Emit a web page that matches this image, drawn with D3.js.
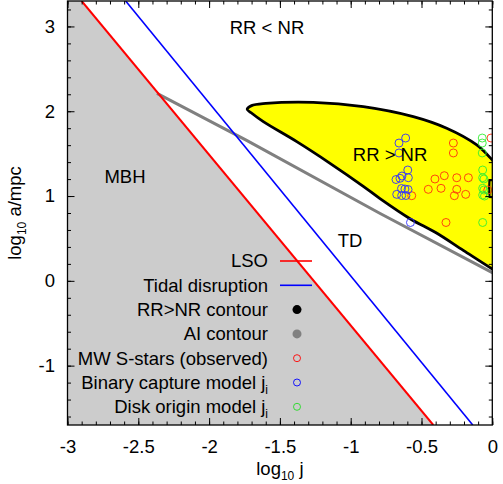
<!DOCTYPE html>
<html>
<head>
<meta charset="utf-8">
<title>RR vs NR</title>
<script src="https://d3js.org/d3.v7.min.js"></script>
<style>
  body { margin: 0; background: #fff; }
  text { font-family: "Liberation Sans", Arial, Helvetica, sans-serif; }
</style>
</head>
<body>
<script>

// ---- data (log10 j, log10 a/mpc) ----
var lsoLine = [[-2.90, 3.3], [-0.417, -1.7]];
var tidalLine = [[-2.589, 3.3], [-0.138, -1.7]];
var aiContour = [[-2.368, 2.21], [-1.735, 1.657], [-0.792, 0.794], [0, 0.097], [0.05, 0.05]];

// RR > NR contour: tip, upper branch towards j = 1, lower branch back
var rrTip = [[-1.731, 2.022]];
var rrUpper = [[-1.700, 2.066], [-1.600, 2.092], [-1.264, 2.105], [-0.911, 2.054],
               [-0.558, 1.936], [-0.322, 1.799], [-0.110, 1.602], [0, 1.425], [0.05, 1.33]];
var rrLower = [[-1.703, 1.982], [-1.617, 1.877], [-1.381, 1.641], [-1.146, 1.386], [-0.911, 1.115],
               [-0.793, 0.97], [-0.578, 0.73], [-0.40, 0.57], [-0.205, 0.36], [0, 0.140], [0.05, 0.09]];
var rrEdge = [[0.01, 1.19], [-0.02, 1.185], [-0.022, 1.09], [-0.02, 0.99], [0.01, 0.985]];

var sStars = [[-0.009, 1.684], [-0.275, 1.625], [-0.275, 1.508], [-0.405, 1.201], [-0.339, 1.240],
              [-0.251, 1.216], [-0.169, 1.216], [-0.452, 1.079], [-0.362, 1.091], [-0.251, 1.079],
              [-0.268, 1.004], [-0.188, 1.020], [-0.569, 1.004], [-0.032, 1.071], [-0.327, 0.688]];
var binaryCapture = [[-0.612, 1.684], [-0.659, 1.625], [-0.659, 1.508], [-0.597, 1.307], [-0.593, 1.216],
                     [-0.652, 1.209], [-0.680, 1.195], [-0.638, 1.236], [-0.641, 1.089], [-0.617, 1.083],
                     [-0.595, 1.077], [-0.675, 1.020], [-0.640, 1.006], [-0.610, 1.006], [-0.578, 0.688]];
var diskOrigin = [[-0.071, 1.684], [-0.071, 1.625], [-0.071, 1.508], [-0.068, 1.307], [-0.068, 1.216],
                  [-0.059, 1.201], [-0.068, 1.091], [-0.059, 1.071], [-0.068, 1.012], [-0.055, 1.000],
                  [-0.068, 0.688]];

var xTicks = [-3, -2.5, -2, -1.5, -1, -0.5, 0];
var yTicks = [-1, 0, 1, 2, 3];

var regionLabels = [
  { text: "RR < NR", x: -1.591, y: 2.982 },
  { text: "MBH", x: -2.594, y: 1.225 },
  { text: "RR > NR", x: -0.722, y: 1.484 },
  { text: "TD", x: -1.005, y: 0.470 }
];

var legendItems = [
  { label: "LSO", type: "line", color: "red" },
  { label: "Tidal disruption", type: "line", color: "blue" },
  { label: "RR>NR contour", type: "dot", color: "black" },
  { label: "AI contour", type: "dot", color: "#808080" },
  { label: "MW S-stars (observed)", type: "ring", color: "red" },
  { label: "Binary capture model j", sub: "i", type: "ring", color: "blue" },
  { label: "Disk origin model j", sub: "i", type: "ring", color: "#22dd22" }
];

// ---- layout ----
var width = 503, height = 484;
var margin = { left: 67.5, right: 10.7, top: 1, bottom: 59 };
var iw = width - margin.left - margin.right,
    ih = height - margin.top - margin.bottom;
var fs = "18.5px";

var x = d3.scaleLinear().domain([-3, 0]).range([0, iw]);
var y = d3.scaleLinear().domain([-1.7, 3.3]).range([ih, 0]);

var svg = d3.select("body").append("svg")
    .attr("width", width)
    .attr("height", height);

svg.append("defs").append("clipPath").attr("id", "plotclip")
  .append("rect").attr("width", iw).attr("height", ih);

var g = svg.append("g").attr("transform", "translate(" + margin.left + "," + margin.top + ")");
var plot = g.append("g").attr("clip-path", "url(#plotclip)");

var line = d3.line().x(function(d) { return x(d[0]); }).y(function(d) { return y(d[1]); });

// MBH region (left of LSO)
plot.append("path")
    .attr("d", line([[-3, 3.3], lsoLine[0], lsoLine[1], [-3, -1.7]]) + "Z")
    .style("fill", "#cccccc");

// RR > NR filled contour
var rrShape = rrTip.concat(rrUpper).concat(rrLower.slice().reverse());
plot.append("path")
    .attr("d", line.curve(d3.curveCatmullRomClosed)(rrShape))
    .style("fill", "#ffff00")
    .style("stroke", "black")
    .style("stroke-width", 2.8)
    .style("stroke-linejoin", "round");
line.curve(d3.curveLinear);

plot.append("path")
    .attr("d", line(rrEdge))
    .style("fill", "none")
    .style("stroke", "black")
    .style("stroke-width", 2.2);

// AI contour
plot.append("path")
    .attr("d", line(aiContour))
    .style("fill", "none")
    .style("stroke", "#808080")
    .style("stroke-width", 3);

// LSO and tidal disruption
plot.append("path").attr("d", line(lsoLine))
    .style("fill", "none").style("stroke", "red").style("stroke-width", 2);
plot.append("path").attr("d", line(tidalLine))
    .style("fill", "none").style("stroke", "blue").style("stroke-width", 1.6);

// points
function rings(data, color) {
  plot.append("g").selectAll("circle")
    .data(data)
    .enter().append("circle")
    .attr("cx", function(d) { return x(d[0]); })
    .attr("cy", function(d) { return y(d[1]); })
    .attr("r", 4)
    .style("fill", "none")
    .style("stroke", color)
    .style("stroke-width", 0.9);
}
rings(sStars, "#ff3010");
rings(binaryCapture, "#3030ff");
rings(diskOrigin, "#33ee33");

// region labels
g.selectAll(".region")
  .data(regionLabels)
  .enter().append("text")
  .attr("class", "region")
  .attr("x", function(d) { return x(d.x); })
  .attr("y", function(d) { return y(d.y); })
  .attr("dy", "0.35em")
  .attr("text-anchor", "middle")
  .style("font-size", fs)
  .text(function(d) { return d.text; });

// legend
var legend = g.append("g");
var lx = 268 - margin.left, ly0 = 261 - margin.top, lstep = 24.3;
legendItems.forEach(function(item, i) {
  var yy = ly0 + i * lstep;
  var t = legend.append("text")
    .attr("x", lx).attr("y", yy).attr("dy", "0.35em")
    .attr("text-anchor", "end")
    .style("font-size", fs)
    .text(item.label);
  if (item.sub) {
    t.append("tspan").attr("dy", "5").style("font-size", "12px").text(item.sub);
  }
  var sx = 297 - margin.left;
  if (item.type == "line") {
    legend.append("line").attr("x1", sx - 17).attr("x2", sx + 15)
      .attr("y1", yy).attr("y2", yy)
      .style("stroke", item.color).style("stroke-width", 1.6);
  } else if (item.type == "dot") {
    legend.append("circle").attr("cx", sx).attr("cy", yy).attr("r", 4.5)
      .style("fill", item.color);
  } else {
    legend.append("circle").attr("cx", sx).attr("cy", yy).attr("r", 3.5)
      .style("fill", "none").style("stroke", item.color).style("stroke-width", 0.9);
  }
});

// axes with inward ticks on all four sides
var xMinor = d3.range(-3, 0.001, 0.1), yMinor = d3.range(-1.6, 3.31, 0.2);
var fmt = function(d) { return String(d); };

function styleAxis(sel) {
  sel.selectAll("path").remove();
  sel.selectAll("line").style("stroke", "black");
  sel.selectAll("text").style("font-size", fs).style("fill", "black")
    .style("font-family", '"Liberation Sans", Arial, sans-serif');
}

g.append("g").attr("transform", "translate(0," + ih + ")")
  .call(d3.axisBottom(x).tickValues(xMinor).tickSize(-3.5).tickFormat(""))
  .call(styleAxis);
g.append("g").attr("transform", "translate(0," + ih + ")")
  .call(d3.axisBottom(x).tickValues(xTicks).tickSize(-7).tickPadding(14.5).tickFormat(fmt))
  .call(styleAxis);
g.append("g")
  .call(d3.axisTop(x).tickValues(xMinor).tickSize(-3.5).tickFormat(""))
  .call(styleAxis);
g.append("g")
  .call(d3.axisTop(x).tickValues(xTicks).tickSize(-7).tickFormat(""))
  .call(styleAxis);

g.append("g")
  .call(d3.axisLeft(y).tickValues(yMinor).tickSize(-3.5).tickFormat(""))
  .call(styleAxis);
g.append("g")
  .call(d3.axisLeft(y).tickValues(yTicks).tickSize(-7).tickPadding(12.5).tickFormat(fmt))
  .call(styleAxis);
g.append("g").attr("transform", "translate(" + iw + ",0)")
  .call(d3.axisRight(y).tickValues(yMinor).tickSize(-3.5).tickFormat(""))
  .call(styleAxis);
g.append("g").attr("transform", "translate(" + iw + ",0)")
  .call(d3.axisRight(y).tickValues(yTicks).tickSize(-7).tickFormat(""))
  .call(styleAxis);

// frame
g.append("rect").attr("width", iw).attr("height", ih)
  .style("fill", "none").style("stroke", "black").style("stroke-width", 1.3);

// axis titles
var xt = svg.append("text")
  .attr("x", margin.left + iw / 2).attr("y", 475)
  .attr("text-anchor", "middle")
  .style("font-size", fs);
xt.append("tspan").text("log");
xt.append("tspan").attr("dy", 5).style("font-size", "12px").text("10");
xt.append("tspan").attr("dy", -5).text(" j");

var yt = svg.append("text")
  .attr("transform", "translate(21," + 213 + ") rotate(-90)")
  .attr("text-anchor", "middle")
  .style("font-size", fs);
yt.append("tspan").text("log");
yt.append("tspan").attr("dy", 5).style("font-size", "12px").text("10");
yt.append("tspan").attr("dy", -5).text(" a/mpc");

</script>
</body>
</html>
